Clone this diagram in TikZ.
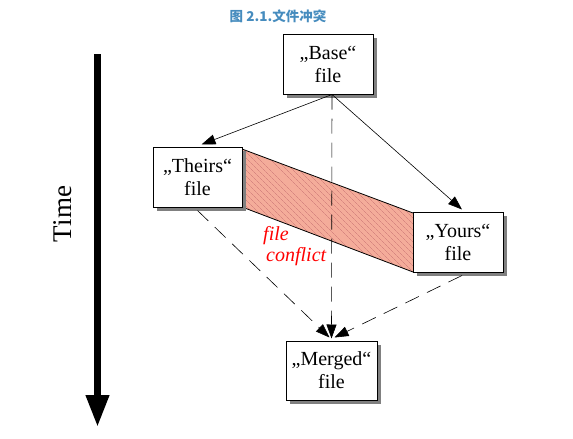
\documentclass[tikz,border=0pt]{standalone}
\usepackage{fontspec}
\setmainfont{Liberation Serif}
\newfontfamily\cjk{Noto Sans CJK SC}
\usetikzlibrary{arrows.meta,shadows,patterns.meta}
\definecolor{titleblue}{RGB}{70,140,190}
\definecolor{salmonfill}{RGB}{244,172,154}
\definecolor{hatchline}{RGB}{200,115,115}
\definecolor{shadowgray}{RGB}{128,128,128}
\tikzset{
  filebox/.style={draw=black, line width=1pt, fill=white, minimum width=90pt, minimum height=60pt,
    align=center, inner sep=0pt, font=\fontsize{20}{23}\selectfont,
    drop shadow={shadow xshift=4pt, shadow yshift=-4pt, fill=shadowgray, opacity=1}},
  solidarrow/.style={line width=0.6pt, -{Triangle[length=14pt,width=10pt]}},
  dasharrow/.style={line width=0.6pt, dash pattern=on 15pt off 9pt, -{Triangle[length=14pt,width=10pt]}},
}
\begin{document}
\begin{tikzpicture}[x=1pt,y=-1pt]
\useasboundingbox (0,0) rectangle (573,439);
% title
\node[font=\cjk\bfseries\fontsize{13.5}{15}\selectfont, text=titleblue] (title) at (278,16) {图 2.1.文件冲突};
% time arrow
\coordinate (ttop) at (97.5,54);
\coordinate (tbot) at (97.5,427);
\draw[line width=7pt, -{Triangle[length=32pt,width=22pt]}] (ttop) -- (tbot);
\node[rotate=90, font=\fontsize{27}{30}\selectfont] (time) at (63,214) {Time};
% conflict band
\coordinate (c1) at (242,149);
\coordinate (c2) at (413,213);
\coordinate (c3) at (413,272);
\coordinate (c4) at (242,207);
\fill[salmonfill] (c1) -- (c2) -- (c3) -- (c4) -- cycle;
\fill[pattern={Lines[angle=-45,distance=4pt,line width=0.4pt]}, pattern color=hatchline] (c1) -- (c2) -- (c3) -- (c4) -- cycle;
\draw[line width=0.8pt] (c1) -- (c2) (c4) -- (c3);
% boxes
\node[filebox] (base) at (328,64) {„Base“\\file};
\node[filebox, minimum width=89pt] (theirs) at (197.5,177) {„Theirs“\\file};
\node[filebox] (yours) at (458,242) {„Yours“\\file};
\node[filebox, minimum width=91pt, minimum height=59pt] (merged) at (331.5,370.5) {„Merged“\\file};
% conflict label
\node[anchor=north west, align=left, text=red, inner sep=0pt,
  font=\itshape\fontsize{20}{21}\selectfont] (conf) at (263,226) {file\\\hspace*{3pt}conflict};
% connectors
\coordinate (bs) at ([xshift=4pt]base.south);
\draw[solidarrow] (bs) -- ([xshift=4pt,yshift=2pt]theirs.north);
\draw[solidarrow] (bs) -- ([xshift=4pt,yshift=2pt]yours.north);
\draw[dasharrow] (bs) -- ([yshift=2pt]merged.north);
\draw[dasharrow] ([yshift=-3pt]theirs.south) -- ([xshift=-2pt,yshift=3pt]merged.north);
\draw[dasharrow] ([xshift=4pt,yshift=-3pt]yours.south) -- ([xshift=3pt,yshift=3pt]merged.north);
\end{tikzpicture}
\end{document}
